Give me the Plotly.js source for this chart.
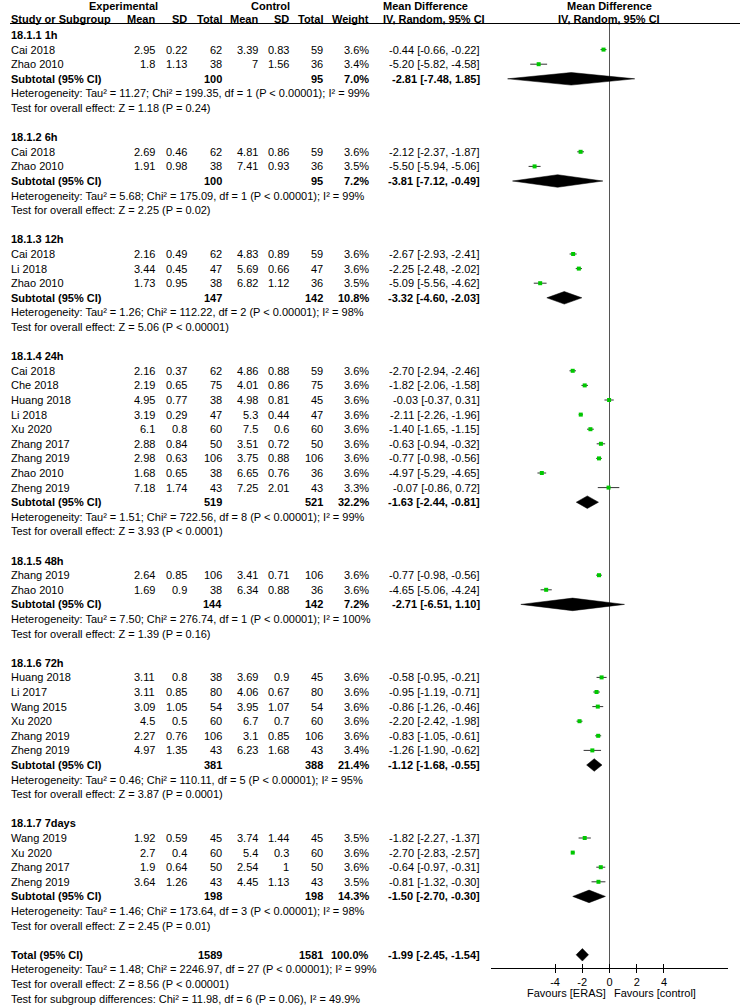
<!DOCTYPE html>
<html><head><meta charset="utf-8">
<script src="https://cdn.plot.ly/plotly-3.0.1.min.js"></script>
<style>html,body{margin:0;padding:0;background:#fff}</style>
</head><body><div id="chart" style="width:740px;height:1006px"></div>
<script>
// ---------- DATA ----------
const groupLabels = ['18.1.1 1h','18.1.2 6h','18.1.3 12h','18.1.4 24h','18.1.5 48h','18.1.6 72h','18.1.7 7days'];
const studyGroup = [0,0, 1,1, 2,2,2, 3,3,3,3,3,3,3,3,3, 4,4, 5,5,5,5,5,5, 6,6,6,6];
const studyNames = ['Cai 2018','Zhao 2010', 'Cai 2018','Zhao 2010', 'Cai 2018','Li 2018','Zhao 2010',
  'Cai 2018','Che 2018','Huang 2018','Li 2018','Xu 2020','Zhang 2017','Zhang 2019','Zhao 2010','Zheng 2019',
  'Zhang 2019','Zhao 2010', 'Huang 2018','Li 2017','Wang 2015','Xu 2020','Zhang 2019','Zheng 2019',
  'Wang 2019','Xu 2020','Zhang 2017','Zheng 2019'];
const expMean = [2.95,1.8, 2.69,1.91, 2.16,3.44,1.73, 2.16,2.19,4.95,3.19,6.1,2.88,2.98,1.68,7.18, 2.64,1.69, 3.11,3.11,3.09,4.5,2.27,4.97, 1.92,2.7,1.9,3.64];
const expSD = [0.22,1.13, 0.46,0.98, 0.49,0.45,0.95, 0.37,0.65,0.77,0.29,0.8,0.84,0.63,0.65,1.74, 0.85,0.9, 0.8,0.85,1.05,0.5,0.76,1.35, 0.59,0.4,0.64,1.26];
const expN = [62,38, 62,38, 62,47,38, 62,75,38,47,60,50,106,38,43, 106,38, 38,80,54,60,106,43, 45,60,50,43];
const ctlMean = [3.39,7, 4.81,7.41, 4.83,5.69,6.82, 4.86,4.01,4.98,5.3,7.5,3.51,3.75,6.65,7.25, 3.41,6.34, 3.69,4.06,3.95,6.7,3.1,6.23, 3.74,5.4,2.54,4.45];
const ctlSD = [0.83,1.56, 0.86,0.93, 0.89,0.66,1.12, 0.88,0.86,0.81,0.44,0.6,0.72,0.88,0.76,2.01, 0.71,0.88, 0.9,0.67,1.07,0.7,0.85,1.68, 1.44,0.3,1,1.13];
const ctlN = [59,36, 59,36, 59,47,36, 59,75,45,47,60,50,106,36,43, 106,36, 45,80,54,60,106,43, 45,60,50,43];
const studyWeight = [3.6,3.4, 3.6,3.5, 3.6,3.6,3.5, 3.6,3.6,3.6,3.6,3.6,3.6,3.6,3.6,3.3, 3.6,3.6, 3.6,3.6,3.6,3.6,3.6,3.4, 3.5,3.6,3.6,3.5];
const studyMD = [-0.44,-5.20, -2.12,-5.50, -2.67,-2.25,-5.09, -2.70,-1.82,-0.03,-2.11,-1.40,-0.63,-0.77,-4.97,-0.07, -0.77,-4.65, -0.58,-0.95,-0.86,-2.20,-0.83,-1.26, -1.82,-2.70,-0.64,-0.81];
const studyLo = [-0.66,-5.82, -2.37,-5.94, -2.93,-2.48,-5.56, -2.94,-2.06,-0.37,-2.26,-1.65,-0.94,-0.98,-5.29,-0.86, -0.98,-5.06, -0.95,-1.19,-1.26,-2.42,-1.05,-1.90, -2.27,-2.83,-0.97,-1.32];
const studyHi = [-0.22,-4.58, -1.87,-5.06, -2.41,-2.02,-4.62, -2.46,-1.58,0.31,-1.96,-1.15,-0.32,-0.56,-4.65,0.72, -0.56,-4.24, -0.21,-0.71,-0.46,-1.98,-0.61,-0.62, -1.37,-2.57,-0.31,-0.30];

const subExpN = [100,100,147,519,144,381,198];
const subCtlN = [95,95,142,521,142,388,198];
const subWeight = [7.0,7.2,10.8,32.2,7.2,21.4,14.3];
const subMD = [-2.81,-3.81,-3.32,-1.63,-2.71,-1.12,-1.50];
const subLo = [-7.48,-7.12,-4.60,-2.44,-6.51,-1.68,-2.70];
const subHi = [1.85,-0.49,-2.03,-0.81,1.10,-0.55,-0.30];
const subTau2 = [11.27,5.68,1.26,1.51,7.50,0.46,1.46];
const subChi2 = [199.35,175.09,112.22,722.56,276.74,110.11,173.64];
const subDf = [1,1,2,8,1,5,3];
const subHetP = ['< 0.00001','< 0.00001','< 0.00001','< 0.00001','< 0.00001','< 0.00001','< 0.00001'];
const subI2 = [99,99,98,99,100,95,98];
const subZ = [1.18,2.25,5.06,3.93,1.39,3.87,2.45];
const subP = ['= 0.24','= 0.02','< 0.00001','< 0.0001','= 0.16','= 0.0001','= 0.01'];

const totalN = [1589, 1581];
const totalWeight = [100.0];
const totalEffect = [-1.99, -2.45, -1.54]; // MD, lower, upper
const totalHet = {tau2: 1.48, chi2: 2246.97, df: 27, p: '< 0.00001', i2: 99};
const totalZ = [8.56];
const totalP = ['< 0.00001'];
const subgroupDiff = {chi2: 11.98, df: 6, p: '= 0.06', i2: 49.9};

const xTicks = [-4, -2, 0, 2, 4];
const favoursLeft = 'Favours [ERAS]';
const favoursRight = 'Favours [control]';

// ---------- LAYOUT HELPERS ----------
const W = 740, H = 1006;
const ROW0 = 35, ROWH = 14.6;
const rowOfPx = p => (p - ROW0) / ROWH;
const FONT = '"Liberation Sans", Arial, Helvetica, sans-serif';
const anns = [];
function ann(text, xPx, row, anchor, bold) {
  anns.push({
    text: bold ? '<b>' + text + '</b>' : text,
    xref: 'paper', x: xPx / W, xanchor: anchor,
    yref: 'y', y: row, yanchor: 'middle',
    showarrow: false, borderpad: 0, borderwidth: 0,
    font: {family: FONT, size: 11, color: '#000'}
  });
}
const ciText = (m, l, h) => m.toFixed(2) + ' [' + l.toFixed(2) + ', ' + h.toFixed(2) + ']';
const COL = {name: 11, em: 155, esd: 187, en: 222, cm: 258, csd: 289, cn: 323, w: 369, md: 480};

// headers
const h1 = rowOfPx(6), h2 = rowOfPx(19);
ann('Experimental', 123, h1, 'center', true);
ann('Control', 270, h1, 'center', true);
ann('Mean Difference', 383, h1, 'left', true);
ann('Mean Difference', 609, h1, 'center', true);
ann('Study or Subgroup', COL.name, h2, 'left', true);
ann('Mean', COL.em, h2, 'right', true);
ann('SD', COL.esd, h2, 'right', true);
ann('Total', COL.en, h2, 'right', true);
ann('Mean', COL.cm, h2, 'right', true);
ann('SD', COL.csd, h2, 'right', true);
ann('Total', COL.cn, h2, 'right', true);
ann('Weight', COL.w, h2, 'right', true);
ann('IV, Random, 95% CI', 383, h2, 'left', true);
ann('IV, Random, 95% CI', 609, h2, 'center', true);

// rows
const studyRow = [];
const subRow = [];
let r = 0;
groupLabels.forEach((g, gi) => {
  ann(g, COL.name, r, 'left', true); r++;
  studyNames.forEach((n, si) => {
    if (studyGroup[si] !== gi) return;
    studyRow[si] = r;
    ann(n, COL.name, r, 'left');
    ann(String(expMean[si]), COL.em, r, 'right');
    ann(String(expSD[si]), COL.esd, r, 'right');
    ann(String(expN[si]), COL.en, r, 'right');
    ann(String(ctlMean[si]), COL.cm, r, 'right');
    ann(String(ctlSD[si]), COL.csd, r, 'right');
    ann(String(ctlN[si]), COL.cn, r, 'right');
    ann(studyWeight[si].toFixed(1) + '%', COL.w, r, 'right');
    ann(ciText(studyMD[si], studyLo[si], studyHi[si]), COL.md, r, 'right');
    r++;
  });
  subRow[gi] = r;
  ann('Subtotal (95% CI)', COL.name, r, 'left', true);
  ann(String(subExpN[gi]), COL.en, r, 'right', true);
  ann(String(subCtlN[gi]), COL.cn, r, 'right', true);
  ann(subWeight[gi].toFixed(1) + '%', COL.w, r, 'right', true);
  ann(ciText(subMD[gi], subLo[gi], subHi[gi]), COL.md, r, 'right', true);
  r++;
  ann('Heterogeneity: Tau² = ' + subTau2[gi].toFixed(2) + '; Chi² = ' + subChi2[gi].toFixed(2) +
      ', df = ' + subDf[gi] + ' (P ' + subHetP[gi] + '); I² = ' + subI2[gi] + '%', COL.name, r, 'left');
  r++;
  ann('Test for overall effect: Z = ' + subZ[gi].toFixed(2) + ' (P ' + subP[gi] + ')', COL.name, r, 'left');
  r++;
  r++; // blank
});
const totRow = r;
ann('Total (95% CI)', COL.name, r, 'left', true);
ann(String(totalN[0]), COL.en, r, 'right', true);
ann(String(totalN[1]), COL.cn, r, 'right', true);
ann(totalWeight[0].toFixed(1) + '%', COL.w, r, 'right', true);
ann(ciText(totalEffect[0], totalEffect[1], totalEffect[2]), COL.md, r, 'right', true);
r++;
ann('Heterogeneity: Tau² = ' + totalHet.tau2.toFixed(2) + '; Chi² = ' + totalHet.chi2.toFixed(2) +
    ', df = ' + totalHet.df + ' (P ' + totalHet.p + '); I² = ' + totalHet.i2 + '%', COL.name, r, 'left');
r++;
ann('Test for overall effect: Z = ' + totalZ[0].toFixed(2) + ' (P ' + totalP[0] + ')', COL.name, r, 'left');
r++;
ann('Test for subgroup differences: Chi² = ' + subgroupDiff.chi2.toFixed(2) + ', df = ' + subgroupDiff.df +
    ' (P ' + subgroupDiff.p + '), I² = ' + subgroupDiff.i2.toFixed(1) + '%', COL.name, r, 'left');

// favours labels
const favRow = rowOfPx(993);
anns.push({text: favoursLeft, xref: 'x', x: 0, xanchor: 'right', xshift: -4, yref: 'y', y: favRow, yanchor: 'middle',
  showarrow: false, borderpad: 0, borderwidth: 0, font: {family: FONT, size: 11, color: '#000'}});
anns.push({text: favoursRight, xref: 'x', x: 0, xanchor: 'left', xshift: 4, yref: 'y', y: favRow, yanchor: 'middle',
  showarrow: false, borderpad: 0, borderwidth: 0, font: {family: FONT, size: 11, color: '#000'}});

// ---------- TRACES ----------
const studyTrace = {
  type: 'scatter', mode: 'markers', xaxis: 'x', yaxis: 'y',
  x: studyMD, y: studyRow,
  marker: {symbol: 'square', size: 4, color: '#00c800', line: {width: 0}},
  error_x: {type: 'data', symmetric: false,
    array: studyHi.map((h, i) => h - studyMD[i]),
    arrayminus: studyLo.map((l, i) => studyMD[i] - l),
    thickness: 1, width: 0, color: '#333'},
  hoverinfo: 'skip'
};
const DH = 0.43; // diamond half-height in rows
const dx = [], dy = [];
function diamond(m, l, h, row) {
  dx.push(l, m, h, m, l, null);
  dy.push(row, row - DH, row, row + DH, row, null);
}
subMD.forEach((m, gi) => diamond(m, subLo[gi], subHi[gi], subRow[gi]));
diamond(totalEffect[0], totalEffect[1], totalEffect[2], totRow);
const diamondTrace = {
  type: 'scatter', mode: 'lines', xaxis: 'x2', yaxis: 'y',
  x: dx, y: dy, fill: 'toself', fillcolor: '#000',
  line: {color: '#000', width: 0.5}, hoverinfo: 'skip', connectgaps: false
};

const axisPx = 968;
const axisPos = (H - axisPx) / H;
const layout = {
  width: W, height: H,
  margin: {l: 0, r: 0, t: 0, b: 0, pad: 0},
  paper_bgcolor: '#fff', plot_bgcolor: 'rgba(0,0,0,0)',
  showlegend: false,
  font: {family: FONT, size: 11, color: '#000'},
  xaxis: {
    domain: [491 / W, 728 / W], range: [-8.7, 8.7], anchor: 'free', position: axisPos,
    showline: true, linecolor: '#000', linewidth: 1,
    ticks: 'outside', ticklen: 4, tickwidth: 1, tickcolor: '#000',
    tickvals: xTicks, ticktext: xTicks.map(String),
    tickfont: {family: FONT, size: 11, color: '#000'},
    showgrid: false, zeroline: false, fixedrange: true
  },
  xaxis2: {
    overlaying: 'x', matches: 'x', anchor: 'free', position: axisPos,
    showline: false, ticks: 'inside', ticklen: 4, tickwidth: 1, tickcolor: '#000',
    tickvals: xTicks, showticklabels: false, showgrid: false, zeroline: false, fixedrange: true
  },
  yaxis: {
    domain: [0, 1], range: [rowOfPx(H), rowOfPx(0)], visible: false, fixedrange: true
  },
  shapes: [
    {type: 'line', xref: 'paper', x0: 10 / W, x1: 1, yref: 'y', y0: rowOfPx(23.5), y1: rowOfPx(23.5),
     line: {color: '#000', width: 1}},
    {type: 'line', xref: 'x', x0: 0, x1: 0, yref: 'y', y0: rowOfPx(23.5), y1: rowOfPx(axisPx),
     line: {color: '#555', width: 1}, layer: 'below'}
  ],
  annotations: anns
};

Plotly.newPlot('chart', [diamondTrace, studyTrace], layout, {staticPlot: true, displayModeBar: false});
</script>
</body></html>
